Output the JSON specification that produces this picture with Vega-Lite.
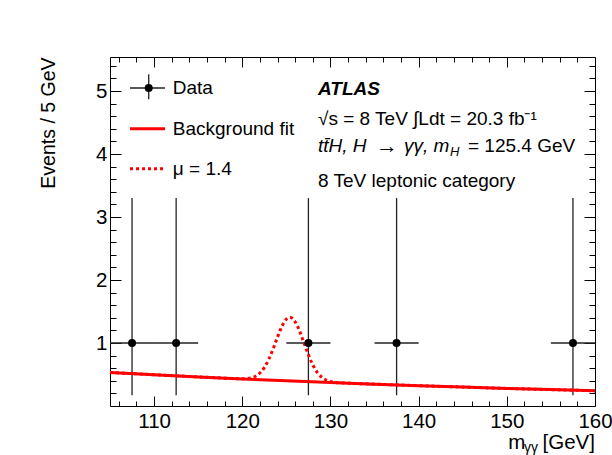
{
  "$schema": "https://vega.github.io/schema/vega-lite/v6.json",
  "width": 485,
  "height": 349,
  "autosize": {"type": "none"},
  "padding": {"left": 110, "top": 57, "right": 17, "bottom": 49},
  "background": "white",
  "config": {
    "view": {"stroke": "black", "strokeWidth": 1},
    "font": "Liberation Sans",
    "axis": {
      "domain": false, "grid": false, "tickColor": "black", "tickWidth": 1,
      "labelFont": "Liberation Sans", "labelFontSize": 20.5, "labelColor": "black",
      "labelFlush": false, "labelOverlap": false, "labelBound": false,
      "titleFont": "Liberation Sans", "titleFontSize": 19.5, "titleFontWeight": "normal", "titleColor": "black"
    },
    "text": {"font": "Liberation Sans", "fontSize": 19, "color": "black", "align": "left", "baseline": "middle"}
  },
  "datasets": {
    "obs": [
      {"m": 107.5, "n": 1, "lo": 0.17, "hi": 3.3, "xlo": 105, "xhi": 110},
      {"m": 112.5, "n": 1, "lo": 0.17, "hi": 3.3, "xlo": 110, "xhi": 115},
      {"m": 127.5, "n": 1, "lo": 0.17, "hi": 3.3, "xlo": 125, "xhi": 130},
      {"m": 137.5, "n": 1, "lo": 0.17, "hi": 3.3, "xlo": 135, "xhi": 140},
      {"m": 157.5, "n": 1, "lo": 0.17, "hi": 3.3, "xlo": 155, "xhi": 160}
    ],
    "bkg": [
      {"m": 105, "v": 0.533}, {"m": 110, "v": 0.496}, {"m": 115, "v": 0.462},
      {"m": 120, "v": 0.430}, {"m": 125, "v": 0.400}, {"m": 130, "v": 0.372},
      {"m": 135, "v": 0.347}, {"m": 140, "v": 0.323}, {"m": 145, "v": 0.300},
      {"m": 150, "v": 0.279}, {"m": 155, "v": 0.260}, {"m": 160, "v": 0.242}
    ],
    "sig": [
      {"m": 105, "v": 0.533}, {"m": 110, "v": 0.496}, {"m": 115, "v": 0.462},
      {"m": 118, "v": 0.442}, {"m": 119, "v": 0.436}, {"m": 120, "v": 0.433},
      {"m": 120.5, "v": 0.436}, {"m": 121, "v": 0.447}, {"m": 121.5, "v": 0.472},
      {"m": 122, "v": 0.523}, {"m": 122.5, "v": 0.610}, {"m": 123, "v": 0.740},
      {"m": 123.5, "v": 0.908}, {"m": 124, "v": 1.095}, {"m": 124.5, "v": 1.265},
      {"m": 125, "v": 1.379}, {"m": 125.4, "v": 1.408}, {"m": 126, "v": 1.336},
      {"m": 126.5, "v": 1.189}, {"m": 127, "v": 1.001}, {"m": 127.5, "v": 0.813},
      {"m": 128, "v": 0.653}, {"m": 128.5, "v": 0.535}, {"m": 129, "v": 0.458},
      {"m": 129.5, "v": 0.413}, {"m": 130, "v": 0.388}, {"m": 130.5, "v": 0.376},
      {"m": 131, "v": 0.369}, {"m": 132, "v": 0.362}, {"m": 135, "v": 0.347},
      {"m": 140, "v": 0.323}, {"m": 150, "v": 0.279}, {"m": 160, "v": 0.242}
    ]
  },
  "resolve": {"axis": {"x": "independent", "y": "independent"}},
  "layer": [
    {
      "data": {"name": "obs"},
      "mark": {"type": "rule", "color": "#222222", "strokeWidth": 1.3},
      "encoding": {
        "x": {"field": "m", "type": "quantitative", "scale": {"domain": [105, 160], "nice": false, "zero": false},
              "axis": {"orient": "bottom", "values": [110, 120, 130, 140, 150, 160], "tickSize": -10, "labelPadding": 15, "title": null, "format": "d"}},
        "y": {"field": "lo", "type": "quantitative", "scale": {"domain": [0, 5.54], "nice": false, "zero": false},
              "axis": {"orient": "left", "values": [1, 2, 3, 4, 5], "tickSize": -11, "labelPadding": 14, "format": "d",
                       "title": "Events / 5 GeV", "titleAnchor": "end", "titlePadding": 37}},
        "y2": {"field": "hi"}
      }
    },
    {
      "data": {"name": "obs"},
      "mark": {"type": "rule", "color": "#222222", "strokeWidth": 1.3},
      "encoding": {
        "x": {"field": "xlo", "type": "quantitative", "scale": {"domain": [105, 160], "nice": false, "zero": false},
              "axis": {"orient": "bottom", "values": [106, 108, 112, 114, 116, 118, 122, 124, 126, 128, 132, 134, 136, 138, 142, 144, 146, 148, 152, 154, 156, 158], "tickSize": -5, "labels": false, "title": null}},
        "x2": {"field": "xhi"},
        "y": {"field": "n", "type": "quantitative", "scale": {"domain": [0, 5.54], "nice": false, "zero": false},
              "axis": {"orient": "left", "values": [0.2, 0.4, 0.6, 0.8, 1.2, 1.4, 1.6, 1.8, 2.2, 2.4, 2.6, 2.8, 3.2, 3.4, 3.6, 3.8, 4.2, 4.4, 4.6, 4.8, 5.2, 5.4], "tickSize": -6, "labels": false, "title": null}}
      }
    },
    {
      "data": {"name": "bkg"},
      "mark": {"type": "line", "color": "#ff0000", "strokeWidth": 3},
      "encoding": {
        "x": {"field": "m", "type": "quantitative", "scale": {"domain": [105, 160], "nice": false, "zero": false},
              "axis": {"orient": "top", "values": [110, 120, 130, 140, 150, 160], "tickSize": -10, "labels": false, "title": null}},
        "y": {"field": "v", "type": "quantitative", "scale": {"domain": [0, 5.54], "nice": false, "zero": false},
              "axis": {"orient": "right", "values": [1, 2, 3, 4, 5], "tickSize": -11, "labels": false, "title": null}}
      }
    },
    {
      "data": {"name": "sig"},
      "mark": {"type": "line", "color": "#ff0000", "strokeWidth": 3, "strokeDash": [3, 3], "interpolate": "monotone"},
      "encoding": {
        "x": {"field": "m", "type": "quantitative", "scale": {"domain": [105, 160], "nice": false, "zero": false},
              "axis": {"orient": "top", "values": [106, 108, 112, 114, 116, 118, 122, 124, 126, 128, 132, 134, 136, 138, 142, 144, 146, 148, 152, 154, 156, 158], "tickSize": -5, "labels": false, "title": null}},
        "y": {"field": "v", "type": "quantitative", "scale": {"domain": [0, 5.54], "nice": false, "zero": false},
              "axis": {"orient": "right", "values": [0.2, 0.4, 0.6, 0.8, 1.2, 1.4, 1.6, 1.8, 2.2, 2.4, 2.6, 2.8, 3.2, 3.4, 3.6, 3.8, 4.2, 4.4, 4.6, 4.8, 5.2, 5.4], "tickSize": -6, "labels": false, "title": null}}
      }
    },
    {
      "data": {"name": "obs"},
      "mark": {"type": "circle", "color": "black", "opacity": 1, "size": 64},
      "encoding": {
        "x": {"field": "m", "type": "quantitative", "axis": null},
        "y": {"field": "n", "type": "quantitative", "axis": null}
      }
    },
    {
      "data": {"values": [{}]},
      "mark": {"type": "rule", "color": "#222222", "strokeWidth": 1.3},
      "encoding": {"x": {"datum": 107.27, "type": "quantitative", "axis": null}, "x2": {"datum": 111.24}, "y": {"datum": 5.048, "type": "quantitative", "axis": null}}
    },
    {
      "data": {"values": [{}]},
      "mark": {"type": "rule", "color": "#222222", "strokeWidth": 1.3},
      "encoding": {"x": {"datum": 109.39, "type": "quantitative", "axis": null}, "y": {"datum": 4.868, "type": "quantitative", "axis": null}, "y2": {"datum": 5.265}}
    },
    {
      "data": {"values": [{}]},
      "mark": {"type": "circle", "color": "black", "opacity": 1, "size": 64},
      "encoding": {"x": {"datum": 109.39, "type": "quantitative", "axis": null}, "y": {"datum": 5.048, "type": "quantitative", "axis": null}}
    },
    {
      "data": {"values": [{}]},
      "mark": {"type": "rule", "color": "#ff0000", "strokeWidth": 3},
      "encoding": {"x": {"datum": 107.27, "type": "quantitative", "axis": null}, "x2": {"datum": 111.24}, "y": {"datum": 4.402, "type": "quantitative", "axis": null}}
    },
    {
      "data": {"values": [{}]},
      "mark": {"type": "rule", "color": "#ff0000", "strokeWidth": 3, "strokeDash": [3, 3]},
      "encoding": {"x": {"datum": 107.27, "type": "quantitative", "axis": null}, "x2": {"datum": 111.24}, "y": {"datum": 3.766, "type": "quantitative", "axis": null}}
    },
    {
      "data": {"values": [{}]},
      "mark": {"type": "text"},
      "encoding": {"x": {"datum": 112.12, "type": "quantitative", "axis": null}, "y": {"datum": 5.048, "type": "quantitative", "axis": null}, "text": {"value": "Data"}}
    },
    {
      "data": {"values": [{}]},
      "mark": {"type": "text"},
      "encoding": {"x": {"datum": 112.12, "type": "quantitative", "axis": null}, "y": {"datum": 4.402, "type": "quantitative", "axis": null}, "text": {"value": "Background fit"}}
    },
    {
      "data": {"values": [{}]},
      "mark": {"type": "text"},
      "encoding": {"x": {"datum": 112.12, "type": "quantitative", "axis": null}, "y": {"datum": 3.766, "type": "quantitative", "axis": null}, "text": {"value": "μ = 1.4"}}
    },
    {
      "data": {"values": [{}]},
      "mark": {"type": "text", "fontWeight": "bold", "fontStyle": "italic"},
      "encoding": {"x": {"datum": 128.59, "type": "quantitative", "axis": null}, "y": {"datum": 5.038, "type": "quantitative", "axis": null}, "text": {"value": "ATLAS"}}
    },
    {
      "data": {"values": [{}]},
      "mark": {"type": "text"},
      "encoding": {"x": {"datum": 128.59, "type": "quantitative", "axis": null}, "y": {"datum": 4.561, "type": "quantitative", "axis": null}, "text": {"value": "√s = 8 TeV ∫Ldt = 20.3 fb⁻¹"}}
    },
    {
      "data": {"values": [{}]},
      "mark": {"type": "text", "fontStyle": "italic"},
      "encoding": {"x": {"datum": 128.59, "type": "quantitative", "axis": null}, "y": {"datum": 4.12, "type": "quantitative", "axis": null}, "text": {"value": "tt̄H, H"}}
    },
    {
      "data": {"values": [{}]},
      "mark": {"type": "text", "align": "center", "fontSize": 22},
      "encoding": {"x": {"datum": 136.41, "type": "quantitative", "axis": null}, "y": {"datum": 4.13, "type": "quantitative", "axis": null}, "text": {"value": "→"}}
    },
    {
      "data": {"values": [{}]},
      "mark": {"type": "text", "fontStyle": "italic"},
      "encoding": {"x": {"datum": 138.34, "type": "quantitative", "axis": null}, "y": {"datum": 4.12, "type": "quantitative", "axis": null}, "text": {"value": "γγ, m"}}
    },
    {
      "data": {"values": [{}]},
      "mark": {"type": "text", "fontStyle": "italic", "fontSize": 13},
      "encoding": {"x": {"datum": 143.56, "type": "quantitative", "axis": null}, "y": {"datum": 4.03, "type": "quantitative", "axis": null}, "text": {"value": "H"}}
    },
    {
      "data": {"values": [{}]},
      "mark": {"type": "text", "align": "right"},
      "encoding": {"x": {"datum": 157.75, "type": "quantitative", "axis": null}, "y": {"datum": 4.12, "type": "quantitative", "axis": null}, "text": {"value": "= 125.4 GeV"}}
    },
    {
      "data": {"values": [{}]},
      "mark": {"type": "text"},
      "encoding": {"x": {"datum": 128.59, "type": "quantitative", "axis": null}, "y": {"datum": 3.569, "type": "quantitative", "axis": null}, "text": {"value": "8 TeV leptonic category"}}
    },
    {
      "data": {"values": [{}]},
      "mark": {"type": "text", "align": "right", "baseline": "alphabetic", "fontSize": 20.5},
      "encoding": {"x": {"datum": 160, "type": "quantitative", "axis": null}, "y": {"datum": -0.68, "type": "quantitative", "axis": null}, "text": {"value": "[GeV]"}}
    },
    {
      "data": {"values": [{}]},
      "mark": {"type": "text", "align": "right", "baseline": "alphabetic", "fontSize": 14},
      "encoding": {"x": {"datum": 153.55, "type": "quantitative", "axis": null}, "y": {"datum": -0.73, "type": "quantitative", "axis": null}, "text": {"value": "γγ"}}
    },
    {
      "data": {"values": [{}]},
      "mark": {"type": "text", "align": "right", "baseline": "alphabetic", "fontSize": 20.5},
      "encoding": {"x": {"datum": 152.1, "type": "quantitative", "axis": null}, "y": {"datum": -0.68, "type": "quantitative", "axis": null}, "text": {"value": "m"}}
    }
  ]
}
